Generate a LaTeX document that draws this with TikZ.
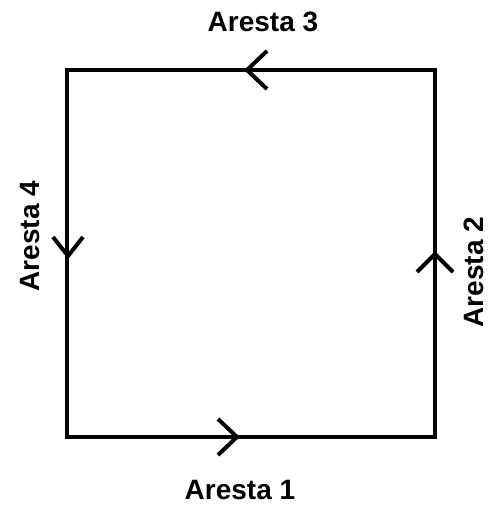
\documentclass[tikz,border=0pt]{standalone}
\usepackage{fontspec}
\setmainfont{Liberation Sans}
\usetikzlibrary{calc}
\begin{document}
\begin{tikzpicture}[x=1pt,y=-1pt,
  edge/.style={line width=4pt},
  chev/.style={line width=4pt,line join=miter},
  lbl/.style={font=\bfseries\fontsize{28}{32}\selectfont,inner sep=0pt}]
\useasboundingbox (0,0) rectangle (491,506);
\coordinate (bl) at (67,437);
\coordinate (br) at (435,437);
\coordinate (tr) at (435,70);
\coordinate (tl) at (67,70);
\draw[edge] (bl) -- (br) -- (tr) -- (tl) -- cycle;
% arrowheads
\coordinate (a1) at (237,437);
\coordinate (a2) at (435,254);
\coordinate (a3) at (247,70);
\coordinate (a4) at (68,256);
\draw[chev] ($(a1)+(-19,-18)$) -- (a1) -- ($(a1)+(-19,18)$);
\draw[chev] ($(a2)+(-18,18)$) -- (a2) -- ($(a2)+(18,18)$);
\draw[chev] ($(a3)+(20,-19)$) -- (a3) -- ($(a3)+(20,19)$);
\draw[chev] ($(a4)+(-15,-19)$) -- (a4) -- ($(a4)+(15,-19)$);
\node[lbl] (l1) at (240,490) {Aresta 1};
\node[lbl,rotate=90] (l2) at (474,272) {Aresta 2};
\node[lbl] (l3) at (263,22) {Aresta 3};
\node[lbl,rotate=90] (l4) at (30,236) {Aresta 4};
\end{tikzpicture}
\end{document}
